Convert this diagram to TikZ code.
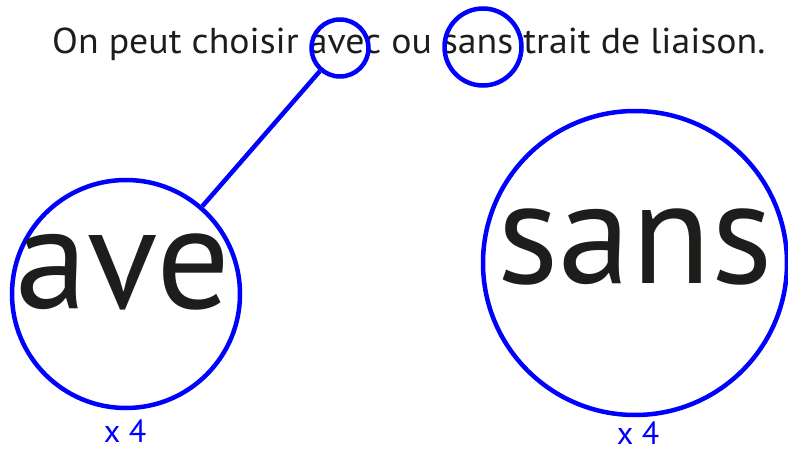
\documentclass[tikz,border=0pt]{standalone}
\usepackage{fontspec}
\setmainfont{PT Sans}
\newfontfamily\widefont{PT Sans}[FakeStretch=1.05]
\definecolor{ink}{HTML}{1D1D1B}
\definecolor{ringblue}{RGB}{0,0,255}
\begin{document}
\begin{tikzpicture}[x=1pt,y=-1pt,
  ring/.style={circle, draw=ringblue, line width=4.5pt, inner sep=0pt},
  bigword/.style={anchor=base, inner sep=0pt, text=ink, font=\fontsize{146}{150}\selectfont},
  factor/.style={anchor=base, inner sep=0pt, text=ringblue, font=\fontsize{32}{36}\selectfont}]
\useasboundingbox (0,0) rectangle (788,452);
\node[anchor=base west, inner sep=0pt, text=ink, font=\widefont\fontsize{36}{40}\selectfont] (sent) at (52,54) {On peut choisir avec ou sans trait de liaison.};
\node[ring, minimum size=57pt] (s1) at (340,48) {};
\node[ring, minimum size=77pt] (s2) at (483,47) {};
\node[ring, minimum size=228pt] (b1) at (126,294) {};
\node[ring, minimum size=304pt] (b2) at (635,263) {};
\draw[ringblue, line width=4.5pt] (s1) -- (b1);
\node[bigword] (w1) at (123,308) {ave};
\node[bigword] (w2) at (635,283) {sans};
\node[factor] (f1) at (125,442) {x 4};
\node[factor] (f2) at (638,444) {x 4};
\end{tikzpicture}
\end{document}
